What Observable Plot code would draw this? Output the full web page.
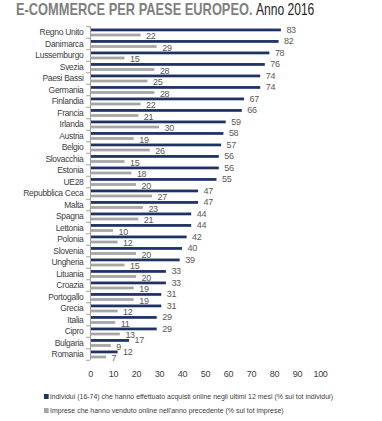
<!DOCTYPE html>
<html><head><meta charset="utf-8">
<script src="https://cdn.jsdelivr.net/npm/d3@7"></script>
<script src="https://cdn.jsdelivr.net/npm/@observablehq/plot@0.6"></script>
<style>
html,body{margin:0;padding:0;background:#fff;}
#wrap{position:relative;width:382px;height:421px;overflow:hidden;font-family:"Liberation Sans",Arial,sans-serif;}
#title{position:absolute;left:16px;top:0px;white-space:nowrap;line-height:20px;transform:scaleX(0.755);transform-origin:0 0;}
#title .b{font-weight:bold;color:#7f7f7f;font-size:17px;}
#title .r{color:#262626;font-size:16px;}
#chart{position:absolute;left:0;top:0;}
.leg{position:absolute;left:44px;font-size:7.5px;color:#404040;white-space:nowrap;line-height:10px;transform:scaleX(0.93);transform-origin:0 0;}
.leg i{display:inline-block;width:5px;height:5px;margin-right:1.5px;vertical-align:0px;}
</style></head>
<body><div id="wrap">
<div id="chart"></div>
<div id="title"><span class="b">E-COMMERCE PER PAESE EUROPEO.</span> <span class="r">Anno 2016</span></div>
<div class="leg" style="top:392px"><i style="background:#1f3264"></i>individui (16-74) che hanno effettuato acquisti online negli ultimi 12 mesi (% sul tot individui)</div>
<div class="leg" style="top:406px"><i style="background:#a6a6a6"></i>Imprese che hanno venduto online nell'anno precedente (% sul tot imprese)</div>
</div>
<script>
const countries = ["Regno Unito","Danimarca","Lussemburgo","Svezia","Paesi Bassi","Germania","Finlandia","Francia","Irlanda","Austria","Belgio","Slovacchia","Estonia","UE28","Repubblica Ceca","Malta","Spagna","Lettonia","Polonia","Slovenia","Ungheria","Lituania","Croazia","Portogallo","Grecia","Italia","Cipro","Bulgaria","Romania"];
const individui = [83,82,78,76,74,74,67,66,59,58,57,56,56,55,47,47,44,44,42,40,39,33,33,31,31,29,29,17,12];
const imprese = [22,29,15,28,25,28,22,21,30,19,26,15,18,20,27,23,21,10,12,20,15,20,19,19,12,11,13,9,7];
const xTicks = [0,10,20,30,40,50,60,70,80,90,100];

const dataInd = countries.map((c,i)=>({country:c, value:individui[i]}));
const dataImp = countries.map((c,i)=>({country:c, value:imprese[i]}));

const H = 390, yTop = 26.25, yBottom = 359.75;
const bw = (yBottom-yTop)/countries.length;
const dark = "#1f3264", grey = "#a6a6a6";

const chart = Plot.plot({
  width: 382, height: H,
  marginLeft: 90, marginRight: 62, marginTop: yTop, marginBottom: H-yBottom,
  style: {fontFamily: '"Liberation Sans",Arial,sans-serif', color: "#404040", background: "transparent", letterSpacing: "-0.3px"},
  x: {domain: [0,100], round: false},
  y: {domain: countries, padding: 0, round: false},
  marks: [
    Plot.barX(dataInd, {x: "value", y: "country", fill: dark, insetTop: bw*0.2, insetBottom: bw*0.56}),
    Plot.barX(dataImp, {x: "value", y: "country", fill: grey, insetTop: bw*0.64, insetBottom: bw*0.12}),
    Plot.text(dataInd, {x: "value", y: "country", text: d=>String(d.value), dx: 5, dy: -2.6, textAnchor: "start", fontSize: 9, fill: "#595959"}),
    Plot.text(dataImp, {x: "value", y: "country", text: d=>String(d.value), dx: 5, dy: 4, textAnchor: "start", fontSize: 9, fill: "#595959"}),
    Plot.ruleX([0], {stroke: "#a0a0a0"}),
    Plot.ruleY(countries, {y: d=>d, x1: -1.7, x2: 0, dy: -bw/2, stroke: "#a0a0a0"}),
    Plot.ruleY([countries[countries.length-1]], {y: d=>d, x1: -1.7, x2: 0, dy: bw/2, stroke: "#a0a0a0"}),
    Plot.axisY({tickSize: 0, tickPadding: 7, fontSize: 8.5, label: null}),
    Plot.axisX({ticks: xTicks, tickSize: 0, tickPadding: 10, fontSize: 9, label: null})
  ]
});
document.getElementById("chart").appendChild(chart);
</script>
</body></html>
